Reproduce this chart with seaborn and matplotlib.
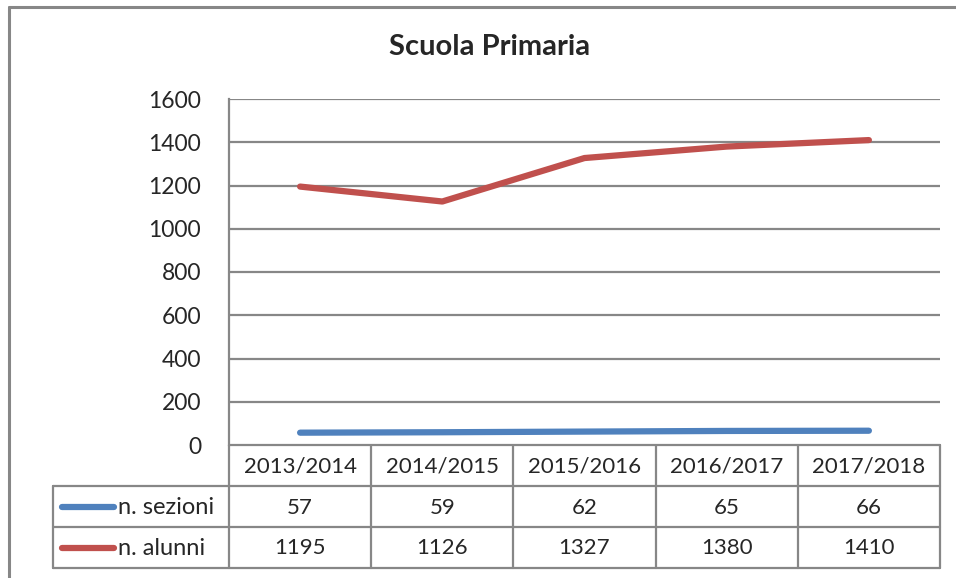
import pandas as pd
import matplotlib.pyplot as plt
import seaborn as sns

years = ['2013/2014', '2014/2015', '2015/2016', '2016/2017', '2017/2018']
sezioni = [57, 59, 62, 65, 66]
alunni = [1195, 1126, 1327, 1380, 1410]
series_names = ['n. sezioni', 'n. alunni']
colors = ['#4F81BD', '#C0504D']

df = pd.DataFrame({
    'anno': years * 2,
    'valore': sezioni + alunni,
    'serie': [series_names[0]] * len(years) + [series_names[1]] * len(years),
})

sns.set_style('white')
plt.rcParams['font.family'] = ['Lato', 'DejaVu Sans']

W, H = 956, 578
fig = plt.figure(figsize=(W / 100, H / 100), dpi=100)
grey = '#878787'

# pixel layout of the plot area
x0, x1 = 229, 940
y_top, y_bot = 99, 445
ax = fig.add_axes([x0 / W, 1 - y_bot / H, (x1 - x0) / W, (y_bot - y_top) / H])
df['x'] = df['anno'].map({y: i for i, y in enumerate(years)})
sns.lineplot(data=df, x='x', y='valore', hue='serie', palette=colors,
             linewidth=4.5, ax=ax, legend=False, solid_capstyle='round')
ax.set_xlim(-0.5, len(years) - 0.5)
ax.set_ylim(0, 1600)
ax.set_yticks(range(0, 1601, 200))
ax.set_xticks([])
ax.set_xlabel('')
ax.set_ylabel('')
ax.yaxis.grid(True, color=grey, linewidth=1.6)
ax.set_axisbelow(True)
for s in ['top', 'right', 'bottom']:
    ax.spines[s].set_visible(False)
ax.spines['left'].set_color(grey)
ax.spines['left'].set_linewidth(1.6)
ax.tick_params(axis='y', length=0, pad=20, labelsize=16.5)

# overlay in pixel coordinates for the data table and the frame
ov = fig.add_axes([0, 0, 1, 1], zorder=-1)
ov.set_xlim(0, W)
ov.set_ylim(H, 0)
ov.axis('off')

fig.text(490 / W, 1 - 47 / H, 'Scuola Primaria', ha='center', va='center',
         fontsize=21, fontweight='bold')

# outer frame (cropped at right/bottom)
ov.plot([9, 9], [7, H], color=grey, lw=2.2)
ov.plot([9, W], [7, 7], color=grey, lw=2.2)

col_w = (x1 - x0) / len(years)
row_y = [445, 486, 527, 568]
lab_x = 53
# horizontal lines
ov.plot([x0, x1], [row_y[0], row_y[0]], color=grey, lw=1.6)
for yy in row_y[1:]:
    ov.plot([lab_x, x1], [yy, yy], color=grey, lw=1.6)
# vertical lines
for i in range(len(years) + 1):
    ov.plot([x0 + i * col_w] * 2, [row_y[0], row_y[-1]], color=grey, lw=1.6)
ov.plot([lab_x, lab_x], [row_y[1], row_y[-1]], color=grey, lw=1.6)

for i, yname in enumerate(years):
    cx = x0 + (i + 0.5) * col_w
    ov.text(cx, (row_y[0] + row_y[1]) / 2 + 1, yname, ha='center', va='center', fontsize=16)
    for r, vals in enumerate([sezioni, alunni]):
        ov.text(cx, (row_y[r + 1] + row_y[r + 2]) / 2 + 1, str(vals[i]),
                ha='center', va='center', fontsize=16)

for r, name in enumerate(series_names):
    cy = (row_y[r + 1] + row_y[r + 2]) / 2
    ov.plot([62, 114], [cy, cy], color=colors[r], lw=4.5, solid_capstyle='round')
    ov.text(118, cy + 1, name, ha='left', va='center', fontsize=17)

fig.savefig('out.png', dpi=100)
